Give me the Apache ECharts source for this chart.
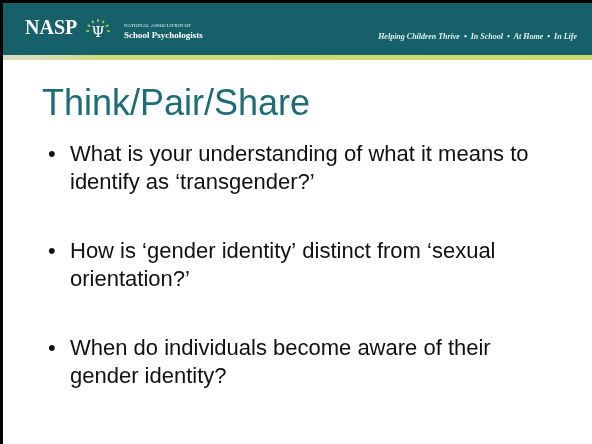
<!DOCTYPE html>
<html>
<head>
<meta charset="utf-8">
<script src="https://cdn.jsdelivr.net/npm/echarts@6/dist/echarts.min.js"></script>
<style>
  html, body { margin: 0; padding: 0; background: #fff; }
  #slide { width: 592px; height: 444px; }
</style>
</head>
<body>
<div id="slide"></div>
<script>
// slide content
const orgShort = "NASP";
const orgLong = ["NATIONAL ASSOCIATION OF", "School Psychologists"];
const tagline = "Helping Children Thrive  •  In School  •  At Home  •  In Life";
const slideTitle = "Think/Pair/Share";
const bullets = [
  ["What is your understanding of what it means to", "identify as \u2018transgender?\u2019"],
  ["How is \u2018gender identity\u2019 distinct from \u2018sexual", "orientation?\u2019"],
  ["When do individuals become aware of their", "gender identity?"]
];
const bulletTops = [166, 263, 360]; // bottom of first line of each bullet

let chart = echarts.init(document.getElementById("slide"));

let elements = [
  // header band
  { type: "rect", shape: { x: 0, y: 0, width: 592, height: 56 }, style: { fill: "#166069" } },
  {
    type: "rect", shape: { x: 0, y: 55, width: 592, height: 5 },
    style: {
      fill: new echarts.graphic.LinearGradient(0, 0, 1, 0, [
        { offset: 0, color: "#d9dcc6" },
        { offset: 0.12, color: "#d4dca0" },
        { offset: 0.16, color: "#cedd78" },
        { offset: 1, color: "#c9d96a" }
      ])
    }
  },
  // frame
  { type: "rect", shape: { x: 0, y: 0, width: 592, height: 3 }, style: { fill: "#000" } },
  { type: "rect", shape: { x: 0, y: 0, width: 3, height: 444 }, style: { fill: "#000" } },
  // logo
  {
    type: "text", x: 25, y: 39,
    style: { text: orgShort, font: "bold 20px 'Liberation Serif'", fill: "#fff", textVerticalAlign: "bottom" }
  },
  {
    type: "text", x: 98, y: 41,
    style: { text: "\u03A8", font: "15px 'DejaVu Serif'", fill: "#fff", textAlign: "center", textVerticalAlign: "bottom" }
  },
  {
    type: "text", x: 124, y: 28,
    style: { text: orgLong[0], font: "5px 'Liberation Serif'", fill: "#e8f0f0", textVerticalAlign: "bottom" }
  },
  {
    type: "text", x: 124, y: 40,
    style: { text: orgLong[1], font: "bold 9px 'Liberation Serif'", fill: "#fff", textVerticalAlign: "bottom" }
  },
  {
    type: "text", x: 577, y: 41,
    style: { text: tagline, font: "italic bold 8px 'Liberation Serif'", fill: "#e6f0ee", textAlign: "right", textVerticalAlign: "bottom" }
  },
  // title
  {
    type: "text", x: 42, y: 123,
    style: { text: slideTitle, font: "36px 'Liberation Sans'", fill: "#1b6d76", textVerticalAlign: "bottom" }
  }
];

// green rays around the psi
[-150, -120, -90, -60, -30, 180, 0].forEach(function (a) {
  let r = a * Math.PI / 180;
  elements.push({
    type: "line",
    shape: {
      x1: 98 + Math.cos(r) * 9, y1: 31 + Math.sin(r) * 9,
      x2: 98 + Math.cos(r) * 12, y2: 31 + Math.sin(r) * 12
    },
    style: { stroke: "#a9cf4a", lineWidth: 1.6 }
  });
});

bullets.forEach(function (lines, i) {
  let base = bulletTops[i];
  elements.push({
    type: "text", x: 48, y: base,
    style: { text: "\u2022", font: "22px 'Liberation Sans'", fill: "#111", textVerticalAlign: "bottom" }
  });
  lines.forEach(function (t, j) {
    elements.push({
      type: "text", x: 70, y: base + 28 * j,
      style: { text: t, font: "22px 'Liberation Sans'", fill: "#111", textVerticalAlign: "bottom" }
    });
  });
});

chart.setOption({
  animation: false,
  backgroundColor: "#fff",
  graphic: { elements: elements }
});
</script>
</body>
</html>
